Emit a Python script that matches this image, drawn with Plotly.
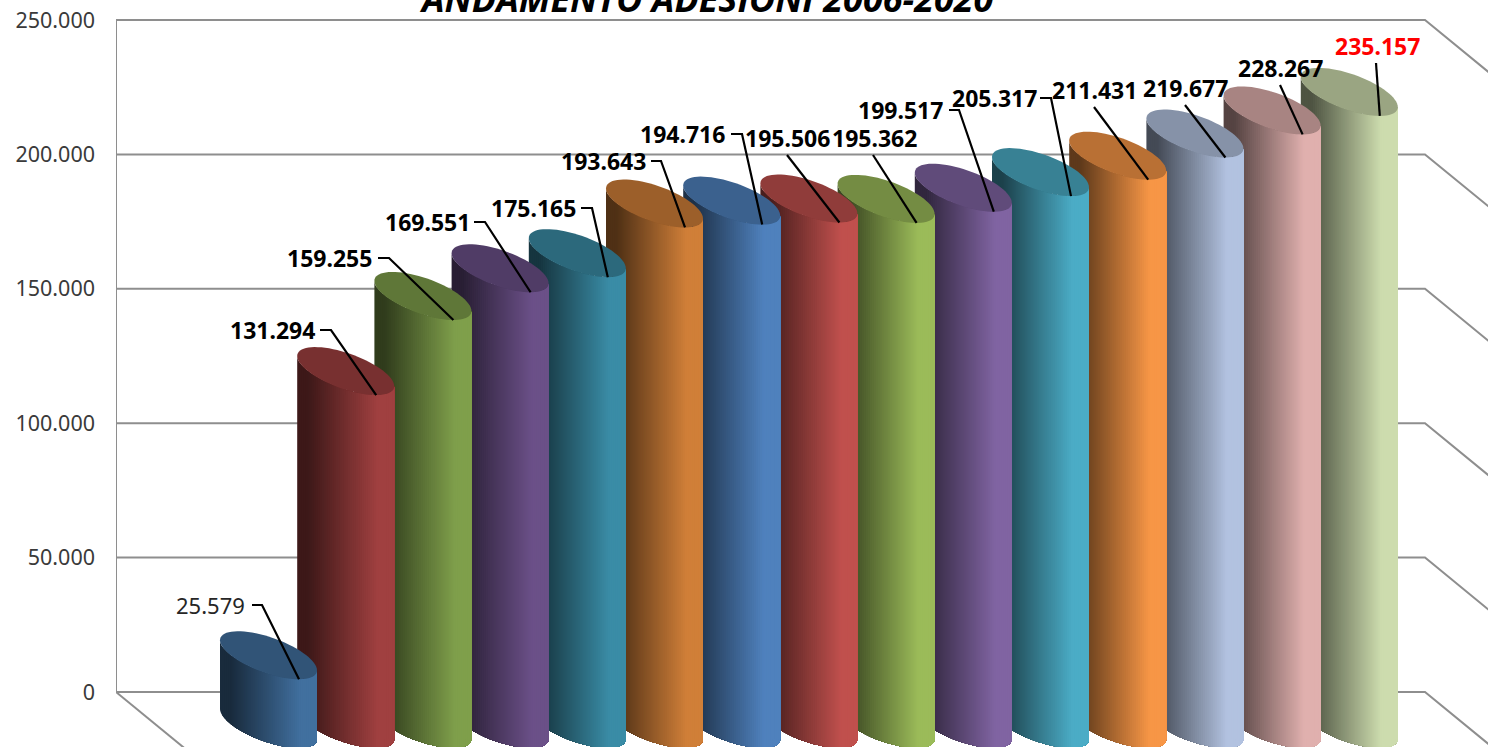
import math
import plotly.graph_objects as go

# ---- data ----
years = list(range(2006, 2021))
adesioni = [25579, 131294, 159255, 169551, 175165, 193643, 194716, 195506,
            195362, 199517, 205317, 211431, 219677, 228267, 235157]
colours = ["#41709F", "#A04040", "#7F9F4B", "#6B5088", "#3A8CA6", "#D07F38", "#4F81BD", "#C0504D",
           "#9BBB59", "#8064A2", "#4BACC6", "#F79646", "#B2C2E0", "#E0B0AE", "#CDDCAE"]
y_ticks = [0, 50000, 100000, 150000, 200000, 250000]
y_labels = ["0", "50.000", "100.000", "150.000", "200.000", "250.000"]
title_text = "ANDAMENTO ADESIONI 2006-2020"

# ---- layout helpers (pixel geometry of the pseudo-3D box) ----
W, H = 1488, 747
Y0_PX, PX_PER_50K = 692.0, 134.4
K = PX_PER_50K / 50000.0
def v_of_px(py):
    return (Y0_PX - py) / K

WALL_L, WALL_R = 116, 1425
SLOPE = 0.82
BAR_LEFT0, BAR_PITCH, BAR_W = 220.0, 77.2, 97.0
A = BAR_W / 2
SHEAR = 0.31
B = 18.7
BASE_PX = 724.0
BASE_V = v_of_px(BASE_PX)
STEPS = 48
RIM = 70

label_box = [  # text centre x, y | stub start x | elbow x
    (210, 605, 252, 262), (272, 330, 320, 331), (329, 258, 378, 389), (427, 222, 474, 485),
    (533, 208, 581, 592), (603, 161, 651, 661), (682, 134, 731, 742), (787, 138, None, 787),
    (874, 138, None, 873), (900, 110, 949, 959), (994, 98, 1040, 1051), (1094, 90, None, 1094),
    (1185, 88, None, 1185), (1280, 68, None, 1280), (1377, 46, None, 1376),
]

def rgb(hexs):
    return [int(hexs[i:i + 2], 16) for i in (1, 3, 5)]
def shade(hexs, f):
    return "rgb(%d,%d,%d)" % tuple(round(c * f) for c in rgb(hexs))

def fmt(v):
    return f"{v:,}".replace(",", ".")

fig = go.Figure()
GRID = "#8E8E8E"
def line(xs, ys, color=GRID, width=2):
    fig.add_trace(go.Scatter(x=xs, y=ys, mode="lines", line=dict(color=color, width=width),
                             hoverinfo="skip", showlegend=False, cliponaxis=False))

# walls
for t in y_ticks:
    p = Y0_PX - t * K
    line([WALL_L, WALL_R, W + 5], [t, t, v_of_px(p + SLOPE * (W + 5 - WALL_R))])
line([WALL_L, WALL_L], [0, 250000])
line([WALL_L, WALL_L + 75], [0, v_of_px(Y0_PX + SLOPE * 75)])

def lower_edge(dx, centre_v):
    # value-space height of the lower rim of a sheared ellipse at offset dx from its centre
    return centre_v - (SHEAR * dx + B * math.sqrt(max(0, 1 - (dx / A) ** 2))) / K

# cylinders (far ones first); each gradient step paints from its own x to the right rim,
# so neighbouring steps overlap and leave no seams
for i in reversed(range(len(adesioni))):
    v, col = adesioni[i], colours[i]
    cx = BAR_LEFT0 + BAR_PITCH * i + A
    top_v = v + BASE_V
    for s in range(STEPS):
        pos = s / STEPS
        start = -A + BAR_W * pos
        f = 0.38 + 0.62 * min(1, max(0, (pos - 0.1) / 0.72))
        ds = []
        for j in range(RIM + 1):
            # points gather at the rim's ends, where it curves most
            u = -A * math.cos(math.pi * j / RIM)
            if u >= start:
                ds.append(u)
        ds = [start] + ds
        xs = [cx + d for d in ds] + [cx + d for d in reversed(ds)]
        ys = [lower_edge(d, top_v) for d in ds] + [lower_edge(d, BASE_V) for d in reversed(ds)]
        xs.append(xs[0]); ys.append(ys[0])
        fig.add_trace(go.Scatter(x=xs, y=ys, mode="none", fill="toself", fillcolor=shade(col, f),
                                 hoverinfo="skip", showlegend=False))
    angs = [2 * math.pi * j / 72 for j in range(73)]
    xs = [cx + A * math.cos(a) for a in angs]
    ys = [top_v - (SHEAR * A * math.cos(a) + B * math.sin(a)) / K for a in angs]
    fig.add_trace(go.Scatter(x=xs, y=ys, mode="none", fill="toself", fillcolor=shade(col, 0.75),
                             hoverinfo="skip", showlegend=False))

# leaders and labels
for i, v in enumerate(adesioni):
    tx, ty, stub, elbow = label_box[i]
    left = BAR_LEFT0 + BAR_PITCH * i
    dx = 79 - A
    ex, ey = left + 79, lower_edge(dx, v + BASE_V)
    if stub is not None:
        xs = [stub, elbow, ex]
        ys = [v_of_px(ty), v_of_px(ty), ey]
    else:
        xs = [elbow, ex]
        ys = [v_of_px(ty + 17), ey]
    line(xs, ys, color="#000000", width=2.2)
    last = i == len(adesioni) - 1
    first = i == 0
    fig.add_annotation(x=tx, y=v_of_px(ty), xref="x", yref="y", text=fmt(v), showarrow=False,
                       xanchor="center", yanchor="middle",
                       font=dict(family="Noto Sans", size=22 if first else 23,
                                 color="#FF0000" if last else ("#262626" if first else "#000000"),
                                 weight="normal" if first else "bold"))

fig.add_annotation(x=706, y=v_of_px(15), xref="x", yref="y", text="<b><i>" + title_text + "</i></b>",
                   showarrow=False, xanchor="center", yanchor="bottom", yshift=-10,
                   font=dict(family="Open Sans", size=36, color="#000000"))

fig.update_layout(
    width=W, height=H, autosize=False,
    margin=dict(l=WALL_L, r=0, t=0, b=0),
    paper_bgcolor="#FFFFFF", plot_bgcolor="#FFFFFF", showlegend=False,
    xaxis=dict(range=[WALL_L, W], visible=False, fixedrange=True),
    yaxis=dict(range=[v_of_px(H), v_of_px(0)], tickmode="array", tickvals=y_ticks, ticktext=y_labels,
               showgrid=False, zeroline=False, showline=False, ticks="", ticklabelstandoff=20,
               tickfont=dict(family="Noto Sans", size=21.5, color="#3A3A3A"), fixedrange=True),
)
fig.write_html("out.html", config={"displayModeBar": False},
               post_script="document.body.style.margin='0';document.body.style.overflow='hidden';")
